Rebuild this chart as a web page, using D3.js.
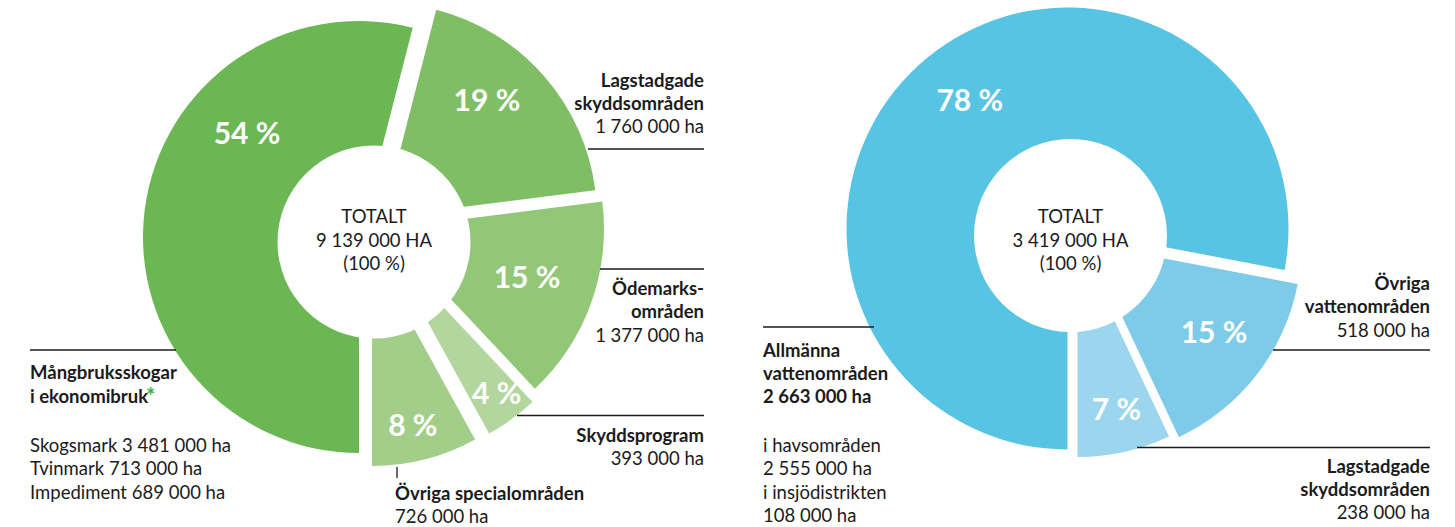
<!DOCTYPE html>
<html>
<head>
<meta charset="utf-8">
<script src="https://cdn.jsdelivr.net/npm/d3@7"></script>
<style>
  body { margin: 0; background: #fff; }
  svg text { font-family: Lato, "Open Sans", sans-serif; fill: #1b1b1b; }
</style>
</head>
<body>
<div id="chart"></div>
<script>
// --- data: land (left donut)
const landCategories = ["Mångbruksskogar i ekonomibruk", "Lagstadgade skyddsområden", "Ödemarksområden", "Skyddsprogram", "Övriga specialområden"];
const landPercent = [54, 19, 15, 4, 8];
const landHa = [4883000, 1760000, 1377000, 393000, 726000];
const landTotal = 9139000;
const landSub = [["Skogsmark", 3481000], ["Tvinmark", 713000], ["Impediment", 689000]];

// --- data: water (right donut)
const waterCategories = ["Allmänna vattenområden", "Övriga vattenområden", "Lagstadgade skyddsområden"];
const waterPercent = [78, 15, 7];
const waterHa = [2663000, 518000, 238000];
const waterTotal = 3419000;
const waterSub = [["i havsområden", 2555000], ["i insjödistrikten", 108000]];

const width = 1455;
const height = 527;

const fmt = d3.formatLocale({ decimal: ",", thousands: " ", grouping: [3], currency: ["", ""] }).format(",");

const svg = d3.select("#chart")
  .append("svg")
  .attr("width", width)
  .attr("height", height);

// exploded pie, white hole drawn on top
function drawDonut(values, total, opt) {
  const pie = d3.pie().sort(null).startAngle(Math.PI).endAngle(3 * Math.PI);
  const arcs = pie(values);
  const arc = d3.arc().innerRadius(0);

  const g = svg.append("g").attr("transform", `translate(${opt.cx},${opt.cy})`);

  g.selectAll("path.slice")
    .data(arcs)
    .join("path")
    .attr("class", "slice")
    .attr("transform", (d, i) => `translate(${opt.shift[i][0]},${opt.shift[i][1]})`)
    .attr("d", (d, i) => arc.outerRadius(opt.radius[i])(d))
    .attr("fill", (d, i) => opt.colors[i]);

  g.append("circle").attr("r", opt.hole).attr("fill", "#fff");

  const center = g.append("text")
    .attr("text-anchor", "middle")
    .attr("font-size", "18.5px");
  [["TOTALT", 223], [fmt(total) + " HA", 247], ["(100 %)", 270]].forEach(([t, y]) => {
    center.append("tspan").attr("x", 0).attr("y", y - opt.cy).text(t);
  });

  // percent labels
  g.selectAll("text.pct")
    .data(arcs)
    .join("text")
    .attr("class", "pct")
    .attr("transform", (d, i) => {
      const a = d.startAngle + (d.endAngle - d.startAngle) * opt.labelPos[i][0];
      const r = opt.labelPos[i][1];
      return `translate(${opt.shift[i][0] + r * Math.sin(a)},${opt.shift[i][1] - r * Math.cos(a)})`;
    })
    .attr("text-anchor", "middle")
    .attr("dy", "0.36em")
    .attr("font-size", "30px")
    .attr("font-weight", "bold")
    .style("fill", "#fff")
    .text(d => d.data + " %");
}

drawDonut(landPercent, landTotal, {
  cx: 374, cy: 242, hole: 96.5,
  colors: ["#6ab753", "#7fbe65", "#92c778", "#b2d69e", "#a2ce8a"],
  shift: [[-15, -5], [9, -25], [11, -13], [12, 4], [-2, 10]],
  radius: [216, 214, 219, 214, 214],
  labelPos: [[0.684, 153], [0.40, 156], [0.48, 150], [0.43, 184], [0.54, 178]]
});

drawDonut(waterPercent, waterTotal, {
  cx: 1070.5, cy: 235.5, hole: 96.5,
  colors: ["#58c4e4", "#7dcbe9", "#9bd6ee"],
  shift: [[-3, -7], [17.5, 8.5], [7, 6.5]],
  radius: [221, 213.5, 215],
  labelPos: [[0.508, 161], [0.45, 154], [0.48, 171.5]]
});

// --- annotations
function label(x, anchor, rows) {
  const t = svg.append("text")
    .attr("text-anchor", anchor)
    .attr("font-size", "18.5px");
  rows.forEach(r => {
    t.append("tspan")
      .attr("x", x)
      .attr("y", r.y)
      .attr("font-weight", r.bold ? "bold" : null)
      .text(r.text);
  });
  return t;
}

function rule(x1, y1, x2, y2) {
  svg.append("line")
    .attr("x1", x1).attr("y1", y1)
    .attr("x2", x2).attr("y2", y2)
    .attr("stroke", "#1b1b1b")
    .attr("stroke-width", 1.3);
}

// Lagstadgade (land)
rule(588, 149, 704, 149);
label(704, "end", [
  { text: "Lagstadgade", y: 87, bold: true },
  { text: "skyddsområden", y: 110, bold: true },
  { text: fmt(landHa[1]) + " ha", y: 133 }
]);

// Ödemarksområden
rule(600, 269, 704, 269);
label(704, "end", [
  { text: "Ödemarks-", y: 295, bold: true },
  { text: "områden", y: 318, bold: true },
  { text: fmt(landHa[2]) + " ha", y: 341.5 }
]);

// Skyddsprogram
rule(517, 415.5, 704, 415.5);
label(704, "end", [
  { text: landCategories[3], y: 441.5, bold: true },
  { text: fmt(landHa[3]) + " ha", y: 465 }
]);

// Övriga specialområden
rule(397, 467, 397, 478);
label(395, "start", [
  { text: landCategories[4], y: 500, bold: true },
  { text: fmt(landHa[4]) + " ha", y: 523 }
]);

// Mångbruksskogar
rule(30, 350, 176, 350);
label(30, "start", [
  { text: "Mångbruksskogar", y: 379, bold: true },
  { text: "i ekonomibruk", y: 403, bold: true }
].concat(landSub.map((s, i) => ({ text: s[0] + " " + fmt(s[1]) + " ha", y: 452 + i * 23.3 }))));
// green footnote mark
svg.append("text")
  .attr("x", 146)
  .attr("y", 404)
  .attr("font-size", "22px")
  .attr("font-weight", "bold")
  .style("fill", "#2fb34a")
  .text("*");

// Allmänna vattenområden
rule(763, 327, 874, 327);
label(763, "start", [
  { text: "Allmänna", y: 357, bold: true },
  { text: "vattenområden", y: 380, bold: true },
  { text: fmt(waterHa[0]) + " ha", y: 403, bold: true },
  { text: waterSub[0][0], y: 452 },
  { text: fmt(waterSub[0][1]) + " ha", y: 475 },
  { text: waterSub[1][0], y: 498.5 },
  { text: fmt(waterSub[1][1]) + " ha", y: 522 }
]);

// Övriga vattenområden
rule(1273, 350, 1430, 350);
label(1430, "end", [
  { text: "Övriga", y: 289.5, bold: true },
  { text: "vattenområden", y: 313, bold: true },
  { text: fmt(waterHa[1]) + " ha", y: 336.5 }
]);

// Lagstadgade (water)
rule(1137, 447.5, 1430, 447.5);
label(1430, "end", [
  { text: "Lagstadgade", y: 473, bold: true },
  { text: "skyddsområden", y: 496, bold: true },
  { text: fmt(waterHa[2]) + " ha", y: 519 }
]);
</script>
</body>
</html>
